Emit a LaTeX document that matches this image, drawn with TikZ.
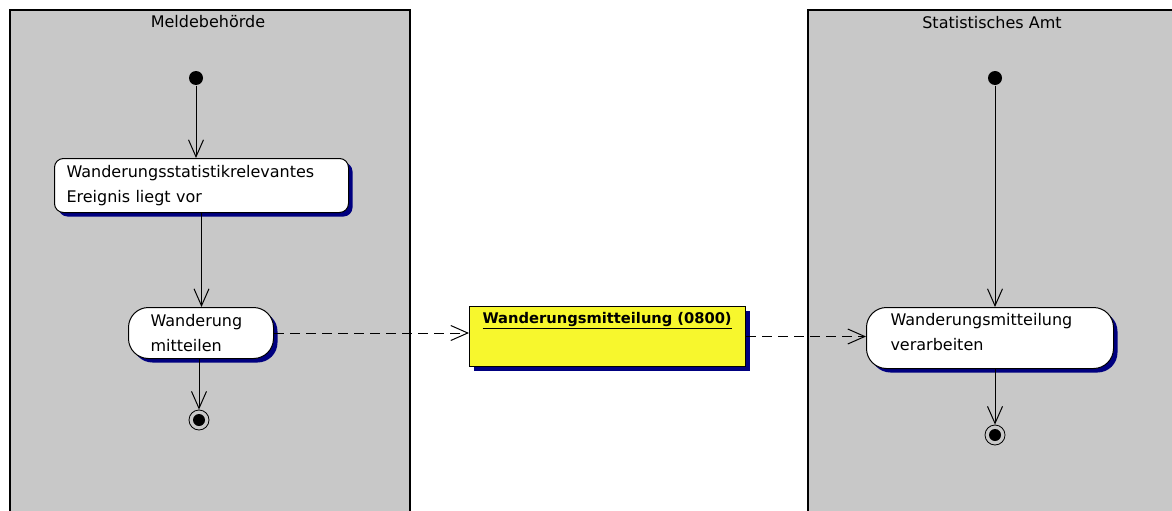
\documentclass[tikz,border=0pt]{standalone}
\usepackage{fontspec}
\setmainfont{DejaVu Sans}
\usetikzlibrary{arrows.meta,shadows}
\definecolor{lanegray}{RGB}{200,200,200}
\definecolor{objyellow}{RGB}{247,247,45}
\definecolor{shadownavy}{RGB}{0,0,128}

\begin{document}
\begin{tikzpicture}[x=1pt,y=-1pt,line width=1pt,>={Straight Barb[length=17pt,width=15pt]},
  font=\fontsize{16}{25}\selectfont,
  act/.style={draw,fill=white,align=left,anchor=north west,
    drop shadow={shadow xshift=4pt,shadow yshift=-4pt,fill=shadownavy,opacity=1}},
  startdot/.style={circle,fill=black,inner sep=0pt,minimum size=14pt},
  enddot/.style={circle,draw,inner sep=0pt,minimum size=20pt,line width=.8pt,
    path picture={\fill (path picture bounding box.center) circle (6pt);}},
  flow/.style={dash pattern=on 10pt off 6pt}]
\useasboundingbox (0,0) rectangle (1172,511);
\fill[lanegray] (10,10) rectangle (410,511);
\draw[line width=1.2pt] (10,511) -- (10,10) -- (410,10) -- (410,511);
\fill[lanegray] (808,10) rectangle (1172,511);
\draw[line width=1.2pt] (808,511) -- (808,10) -- (1172,10);
\node (t1) at (208,22) {Meldebehörde};
\node (t2) at (992,23) {Statistisches Amt};
\node[startdot] (s1) at (196,78) {};
\node[act,rounded corners=9pt,text width=270pt,inner xsep=12pt,minimum height=54pt] (a1) at (54,158)
  {Wanderungsstatistikrelevantes\\Ereignis liegt vor};
\node[act,rounded corners=20pt,text width=101pt,inner xsep=22pt,minimum height=51pt] (a2) at (128,307)
  {Wanderung\\mitteilen};
\node[enddot] (f1) at (199,420) {};
\node[act,fill=objyellow,text width=250pt,inner xsep=13pt,inner ysep=6pt,text height=11pt,text depth=37pt,
  font=\fontsize{14.7}{25}\selectfont\bfseries] (obj) at (469,306) {\underline{Wanderungsmitteilung (0800)}};
\node[startdot] (s2) at (995,78) {};
\node[act,rounded corners=20pt,text width=199pt,inner xsep=24pt,minimum height=61pt,text depth=37pt] (a3) at (866,307)
  {Wanderungsmitteilung\\verarbeiten};
\node[enddot] (f2) at (995,435) {};
\draw[->] (s1) -- (s1 |- a1.north);
\draw[->] (a1) -- (a1 |- a2.north);
\draw[->] (a2.south -| f1) -- (f1);
\draw[->,flow] (a2.east) -- (a2.east -| obj.west);
\draw[->,flow] (obj.east) -- (obj.east -| a3.west);
\draw[->] (s2) -- (s2 |- a3.north);
\draw[->] (a3.south -| f2) -- (f2);
\end{tikzpicture}
\end{document}
